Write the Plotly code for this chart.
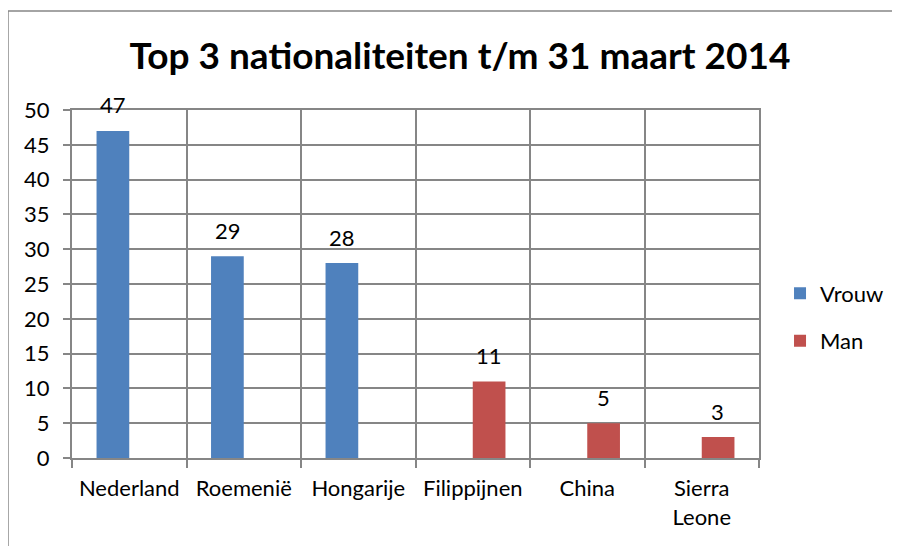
import plotly.graph_objects as go

landen = ['Nederland', 'Roemenië', 'Hongarije', 'Filippijnen', 'China', 'Sierra<br>Leone']
vrouw = [47, 29, 28, 0, 0, 0]
man = [0, 0, 0, 11, 5, 3]
y_ticks = [0, 5, 10, 15, 20, 25, 30, 35, 40, 45, 50]

BLAUW = '#4F81BD'
ROOD = '#C0504D'
GRID = '#868686'
FONT = 'Lato'

fig = go.Figure()

fig.add_trace(go.Bar(x=landen, y=vrouw, name='Vrouw', marker_color=BLAUW,
                     marker_line_width=0, legendgroup='v'))
fig.add_trace(go.Bar(x=landen, y=man, name='Man', marker_color=ROOD,
                     marker_line_width=0, legendgroup='m'))

# data labels, only for values that are not zero
for serie, shift in ((vrouw, -16), (man, 16)):
    for land, v in zip(landen, serie):
        if v:
            fig.add_annotation(x=land, y=v, text=str(v), showarrow=False,
                               xshift=shift, yshift=26, yanchor='middle',
                               font=dict(family=FONT, size=22, color='#000000'))

# outer chart border (left and top visible, rest runs off the picture)
fig.add_shape(type='rect', xref='paper', yref='paper',
              x0=-0.0932, x1=2, y0=-1, y1=1.2845,
              line=dict(color=GRID, width=1.5), layer='below')

# page has an 8px body margin, so everything is placed 8px up/left
fig.update_layout(
    width=900, height=546,
    margin=dict(l=64, r=149, t=102, b=96),
    paper_bgcolor='white', plot_bgcolor='white',
    font=dict(family=FONT, size=22, color='#000000'),
    title=dict(text='<b>Top 3 nationaliteiten t/m 31 maart 2014</b>',
               x=452 / 900, xanchor='center', y=1 - 48 / 546, yanchor='middle',
               font=dict(family=FONT, size=37, color='#000000')),
    barmode='group', bargap=0.4286, bargroupgap=0,
    showlegend=True,
    legend=dict(x=1.0306, y=0.404, xanchor='left', yanchor='middle',
                font=dict(family=FONT, size=22), tracegroupgap=16,
                itemwidth=30, bgcolor='rgba(0,0,0,0)'),
)

fig.update_xaxes(type='category', tickson='boundaries', ticks='outside', ticklen=8,
                 tickcolor=GRID, tickwidth=2, automargin=False,
                 showgrid=True, gridcolor=GRID, gridwidth=2,
                 showline=True, linecolor=GRID, linewidth=2, mirror=True,
                 ticklabelstandoff=10, tickfont=dict(family=FONT, size=22))
fig.update_yaxes(range=[0, 50], tickvals=y_ticks, ticks='outside', ticklen=7,
                 tickcolor=GRID, tickwidth=2, automargin=False,
                 showgrid=True, gridcolor=GRID, gridwidth=2, zeroline=False,
                 showline=True, linecolor=GRID, linewidth=2, mirror=True,
                 ticklabelstandoff=9, tickfont=dict(family=FONT, size=22))

fig.write_html('out.html')
